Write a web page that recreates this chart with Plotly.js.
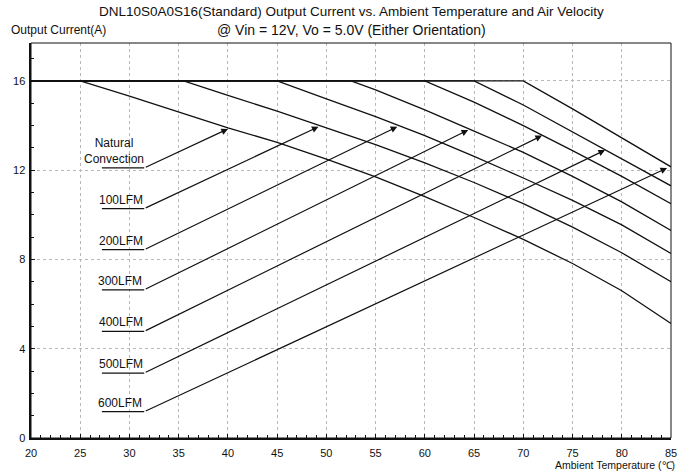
<!DOCTYPE html>
<html>
<head>
<meta charset="utf-8">
<script src="https://cdn.plot.ly/plotly-3.0.1.min.js"></script>
<style>html,body{margin:0;padding:0;background:#fff;}#chart{width:682px;height:476px;}</style>
</head>
<body>
<div id="chart"></div>
<script>
// ---- data ----
const seriesNames = ["Natural Convection", "100LFM", "200LFM", "300LFM", "400LFM", "500LFM", "600LFM"];
const tempNat = [20, 25, 30, 35, 40, 45, 50, 55, 60, 65, 70, 75, 80, 85];
const curNat  = [16, 16, 15.32, 14.62, 13.9, 13.25, 12.5, 11.7, 10.82, 9.88, 8.9, 7.82, 6.6, 5.13];
const temp100 = [20, 35.5, 40, 45, 50, 55, 60, 65, 70, 75, 80, 85];
const cur100  = [16, 16, 15.35, 14.65, 13.9, 13.15, 12.33, 11.45, 10.5, 9.45, 8.3, 7.0];
const temp200 = [20, 45, 50, 55, 60, 65, 70, 75, 80, 85];
const cur200  = [16, 16, 15.2, 14.4, 13.55, 12.62, 11.65, 10.65, 9.55, 8.27];
const temp300 = [20, 52.5, 55, 60, 65, 70, 75, 80, 85];
const cur300  = [16, 16, 15.6, 14.7, 13.75, 12.8, 11.72, 10.58, 9.3];
const temp400 = [20, 60, 65, 70, 75, 80, 85];
const cur400  = [16, 16, 15.05, 14.0, 12.88, 11.72, 10.5];
const temp500 = [20, 65, 70, 75, 80, 85];
const cur500  = [16, 16, 14.92, 13.72, 12.5, 11.3];
const temp600 = [20, 70, 75, 80, 85];
const cur600  = [16, 16, 14.75, 13.45, 12.15];

// label callouts
const labelTexts = ["Natural<br>Convection", "100LFM", "200LFM", "300LFM", "400LFM", "500LFM", "600LFM"];
const labelLineY = [12.1, 10.28, 8.44, 6.64, 4.78, 2.91, 1.18];
const labelTextX = [28.4, 29.1, 29.1, 29.0, 29.1, 29.1, 29.0];
const labelLineX0 = 27.2;
const labelLineX1 = 31.5;
const arrowTipX = [40.0, 49.2, 57.2, 64.4, 71.9, 78.3, 84.6];
const arrowTipY = [13.85, 13.95, 13.95, 13.8, 13.55, 12.9, 12.1];

const xTickVals = [20, 25, 30, 35, 40, 45, 50, 55, 60, 65, 70, 75, 80, 85];
const yTickVals = [0, 4, 8, 12, 16];

const titleLine1 = 'DNL10S0A0S16(Standard) Output Current vs. Ambient Temperature and Air Velocity';
const titleLine2 = '@ Vin = 12V, Vo = 5.0V (Either Orientation)';

// ---- build ----
const xs = [tempNat, temp100, temp200, temp300, temp400, temp500, temp600];
const ys = [curNat, cur100, cur200, cur300, cur400, cur500, cur600];
const traces = xs.map((x, i) => ({
  x: x, y: ys[i], name: seriesNames[i], type: 'scatter', mode: 'lines',
  line: {color: '#111', width: 1.3}, hoverinfo: 'skip', showlegend: false
}));

const FONT = 'Arial, "Liberation Sans", sans-serif';
const annotations = [];
const shapes = [];
labelTexts.forEach((t, i) => {
  annotations.push({
    x: labelTextX[i], y: labelLineY[i], xref: 'x', yref: 'y',
    text: t, showarrow: false, xanchor: 'center', yanchor: 'bottom',
    font: {family: FONT, size: 12, color: '#111'}, borderpad: 1
  });
  annotations.push({
    x: arrowTipX[i], y: arrowTipY[i], xref: 'x', yref: 'y',
    ax: labelLineX1, ay: labelLineY[i], axref: 'x', ayref: 'y',
    text: '', showarrow: true, arrowhead: 2, arrowsize: 1.1, arrowwidth: 1.2,
    arrowcolor: '#111', standoff: 0, startstandoff: 0
  });
  shapes.push({
    type: 'line', xref: 'x', yref: 'y', x0: labelLineX0, x1: labelLineX1,
    y0: labelLineY[i], y1: labelLineY[i], line: {color: '#111', width: 1.2}
  });
});
shapes.push({type: 'rect', xref: 'paper', yref: 'paper', x0: 0, x1: 1, y0: 0, y1: 1,
  line: {color: '#111', width: 1}});

annotations.push({
  xref: 'paper', yref: 'paper', x: 0.5, y: 1.0786, xanchor: 'center', yanchor: 'middle',
  text: titleLine1, showarrow: false, font: {family: FONT, size: 13.5, color: '#111'}
});
annotations.push({
  xref: 'paper', yref: 'paper', x: 0.5, y: 1.033, xanchor: 'center', yanchor: 'middle',
  text: titleLine2, showarrow: false, font: {family: FONT, size: 14, color: '#111'}
});
annotations.push({
  xref: 'paper', yref: 'paper', x: -0.035, y: 1.033, xanchor: 'left', yanchor: 'middle',
  text: 'Output Current(A)', showarrow: false, font: {family: FONT, size: 12, color: '#111'}
});
annotations.push({
  xref: 'paper', yref: 'paper', x: 1.01, y: -0.069, xanchor: 'right', yanchor: 'middle',
  text: 'Ambient Temperature (℃)', showarrow: false, font: {family: FONT, size: 10.5, color: '#111'}
});

const layout = {
  width: 682, height: 476,
  margin: {l: 31, r: 11, t: 43, b: 38},
  paper_bgcolor: '#fff', plot_bgcolor: '#fff',
  xaxis: {
    range: [20, 85], tickvals: xTickVals, ticktext: xTickVals.map(String),
    showgrid: true, gridcolor: '#b8b8b8', griddash: 'dot', gridwidth: 1,
    showline: true, linecolor: '#111', linewidth: 2,
    ticks: 'inside', ticklen: 4, tickcolor: '#111', tickwidth: 1,
    minor: {dtick: 1, tick0: 20, ticks: 'inside', ticklen: 3, tickcolor: '#111', showgrid: false},
    tickfont: {family: FONT, size: 11, color: '#111'}, zeroline: false, fixedrange: true,
    ticklabelstandoff: 4
  },
  yaxis: {
    range: [0, 17.7], tickvals: yTickVals, ticktext: yTickVals.map(String),
    showgrid: true, gridcolor: '#b8b8b8', griddash: 'dot', gridwidth: 1,
    showline: true, linecolor: '#111', linewidth: 2.5,
    ticks: 'inside', ticklen: 4, tickcolor: '#111', tickwidth: 1,
    minor: {dtick: 1, tick0: 0, ticks: 'inside', ticklen: 3, tickcolor: '#111', showgrid: false},
    tickfont: {family: FONT, size: 11, color: '#111'}, zeroline: false, fixedrange: true,
    ticklabelstandoff: 1
  },
  annotations: annotations,
  shapes: shapes,
  showlegend: false
};

Plotly.newPlot('chart', traces, layout, {displayModeBar: false, staticPlot: true});
</script>
</body>
</html>
